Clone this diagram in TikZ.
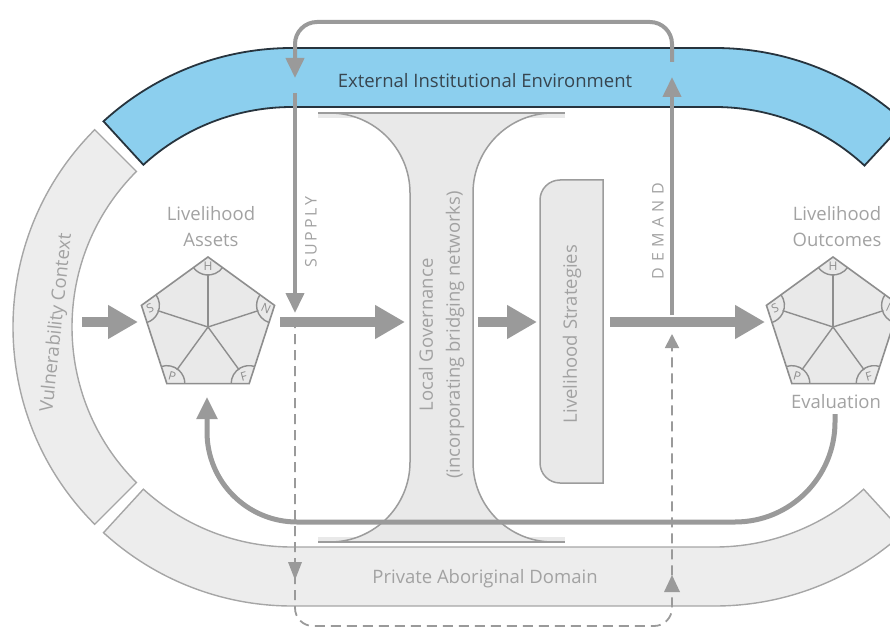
\documentclass[tikz,border=0pt]{standalone}
\usepackage{fontspec}
\setmainfont{Open Sans}
\usetikzlibrary{arrows.meta,calc}
\definecolor{bandfill}{HTML}{EDEDED}
\definecolor{bandline}{HTML}{A6A6A6}
\definecolor{envfill}{HTML}{8CCFEE}
\definecolor{envline}{HTML}{27343E}
\definecolor{envtext}{HTML}{37454F}
\definecolor{flowgray}{HTML}{9A9A9A}
\definecolor{labelgray}{HTML}{A2A2A2}
\definecolor{shapefill}{HTML}{E9E9E9}
\definecolor{shapeline}{HTML}{9C9C9C}
\definecolor{pentline}{HTML}{8E8E8E}

\newcommand{\capitalpent}[1]{%
  \draw[pentshape] ($(#1)+(-90:70)$) -- ($(#1)+(-18:70)$) -- ($(#1)+(54:70)$)
     -- ($(#1)+(126:70)$) -- ($(#1)+(198:70)$) -- cycle;
  \foreach \a/\l/\t in {-90/H/0,-18/N/-25,54/F/15,126/P/-15,198/S/25}{
    \draw[pentstroke] (#1) -- ($(#1)+(\a:53)$);
    \draw[pentstroke] ($(#1)+(\a:70)+(\a+126:18)$)
       arc[start angle=\a+126,end angle=\a+234,radius=18];
    \node[capletter,rotate=\t] (#1-\l) at ($(#1)+(\a:61)$) {\l};
  }}

\begin{document}
\begin{tikzpicture}[x=1pt,y=-1pt,
  band/.style={draw=bandline,fill=bandfill,line width=1.4pt},
  envband/.style={draw=envline,fill=envfill,line width=1.8pt},
  govshape/.style={draw=shapeline,fill=shapefill,line width=1.5pt},
  pentshape/.style={draw=pentline,fill=shapefill,line width=1.6pt,line join=miter},
  pentstroke/.style={draw=pentline,line width=1.4pt},
  capletter/.style={font=\fontsize{12}{12}\selectfont,text=pentline,inner sep=0pt},
  lbl/.style={font=\fontsize{18.5}{26}\selectfont,text=labelgray,align=center,inner sep=0pt},
  spaced/.style={font=\fontsize{16}{16}\selectfont\addfontfeatures{LetterSpace=#1}},
  blockarrow/.style={draw=flowgray,line width=10pt,-{Triangle[length=30pt,width=32pt]}},
  linkline/.style={draw=flowgray,line width=4pt},
  linktip/.style={-{Triangle[length=20pt,width=18pt]}},
  dashline/.style={draw=flowgray,line width=1.8pt,dash pattern=on 10pt off 6pt}
]
\useasboundingbox (0,0) rectangle (890,628);
\clip (0,0) rectangle (890,628);

% centres of the two ends of the outer track
\coordinate (L) at (292,327);
\coordinate (Rc) at (715,327);

% Vulnerability Context (left end of the track)
\draw[band] ($(L)+(135:279)$) arc[start angle=135,end angle=225,radius=279]
  -- ($(L)+(225:220)$) arc[start angle=225,end angle=135,radius=220] -- cycle;
% Private Aboriginal Domain (lower side of the track)
\draw[band] ($(L)+(132.5:279)$) arc[start angle=132.5,end angle=90,radius=279]
  -- ($(Rc)+(90:279)$) arc[start angle=90,end angle=47.5,radius=279]
  -- ($(Rc)+(47.5:220)$) arc[start angle=47.5,end angle=90,radius=220]
  -- ($(L)+(90:220)$) arc[start angle=90,end angle=132.5,radius=220] -- cycle;
% External Institutional Environment (upper side of the track)
\draw[envband] ($(L)+(227.5:279)$) arc[start angle=227.5,end angle=270,radius=279]
  -- ($(Rc)+(270:279)$) arc[start angle=270,end angle=312.8,radius=279]
  -- ($(Rc)+(312.8:220)$) arc[start angle=312.8,end angle=270,radius=220]
  -- ($(L)+(270:220)$) arc[start angle=270,end angle=227.5,radius=220] -- cycle;

\node[lbl,rotate=84] (vuln) at (57,323) {Vulnerability Context};
\node[lbl] (private) at (485,579) {Private Aboriginal Domain};
\node[lbl,text=envtext] (env) at (485,81) {External Institutional Environment};

% Local Governance: I-beam with concave sides
\fill[shapefill] (318,113) rectangle (565,118);
\fill[shapefill] (318,537) rectangle (565,542);
\draw[govshape] (330,113) -- (553,113)
  arc[start angle=-90,end angle=-180,radius=80] -- (473,462)
  arc[start angle=180,end angle=90,radius=80] -- (330,542)
  arc[start angle=90,end angle=0,radius=80] -- (410,193)
  arc[start angle=0,end angle=-90,radius=80] -- cycle;
\draw[shapeline,line width=1.5pt] (318,113) -- (565,113);
\draw[shapeline,line width=1.5pt] (318,542) -- (565,542);
\node[lbl,rotate=90,font=\fontsize{18.5}{27}\selectfont] (gov) at (441.5,335)
  {Local Governance\\(incorporating bridging networks)};

% Livelihood Strategies box, rounded on its left side
\draw[govshape] (603,180) -- (560,180) arc[start angle=-90,end angle=-180,radius=20]
  -- (540,463) arc[start angle=180,end angle=90,radius=20] -- (603,483) -- cycle;
\node[lbl,rotate=90] (strat) at (572,334) {Livelihood Strategies};

% capital pentagons
\coordinate (assets) at (208,327);
\coordinate (outcomes) at (833,327);
\capitalpent{assets}
\capitalpent{outcomes}
\node[lbl] (assetslbl) at (211,227) {Livelihood\\Assets};
\node[lbl] (outlbl) at (837,227) {Livelihood\\Outcomes};
\node[lbl] (eval) at (836,402) {Evaluation};

% main flow
\coordinate (vulnOut) at (82,322);
\coordinate (assetsIn) at (138,322);
\coordinate (assetsOut) at (280,322);
\coordinate (govIn) at (405,322);
\coordinate (govOut) at (478,322);
\coordinate (stratIn) at (537,322);
\coordinate (stratOut) at (610,322);
\coordinate (outIn) at (765,322);
\draw[blockarrow] (vulnOut) -- (assetsIn);
\draw[blockarrow] (assetsOut) -- (govIn);
\draw[blockarrow] (govOut) -- (stratIn);
\draw[blockarrow] (stratOut) -- (outIn);

% feedback from evaluation to assets
\coordinate (evalBase) at (835,414);
\coordinate (assetsBase) at (207,397);
\draw[draw=flowgray,line width=5pt,-{Triangle[length=22pt,width=20pt]}]
  (evalBase) -- (835,422) arc[start angle=0,end angle=90,radius=100]
  -- (297,522) arc[start angle=90,end angle=180,radius=90] -- (assetsBase);

% supply and demand through the external environment
\coordinate (demandTop) at (672,62);
\coordinate (supplyTop) at (295,78);
\coordinate (supplyFrom) at (295,93);
\coordinate (supplyTo) at (295,313);
\coordinate (demandFrom) at (672,315);
\coordinate (demandTo) at (672,77);
\draw[linkline,linktip,rounded corners=22pt] (demandTop) |- (295,22) -- (supplyTop);
\draw[linkline,linktip] (supplyFrom) -- (supplyTo);
\draw[linkline,linktip] (demandFrom) -- (demandTo);
\node[lbl,rotate=90,spaced=18] (supply) at (311,232) {SUPPLY};
\node[lbl,rotate=90,spaced=34] (demand) at (658,231) {DEMAND};

% private supply and demand through the Aboriginal domain
\coordinate (privFrom) at (295,318);
\coordinate (privTo) at (672,334);
\draw[dashline,rounded corners=18pt,-{Triangle[length=14pt,width=14pt]}]
  (privFrom) -- (295,626) -- (672,626) -- (privTo);
\fill[flowgray] (288,562) -- (302,562) -- (295,580) -- cycle;
\fill[flowgray] (664,592) -- (680,592) -- (672,575) -- cycle;
\end{tikzpicture}
\end{document}
